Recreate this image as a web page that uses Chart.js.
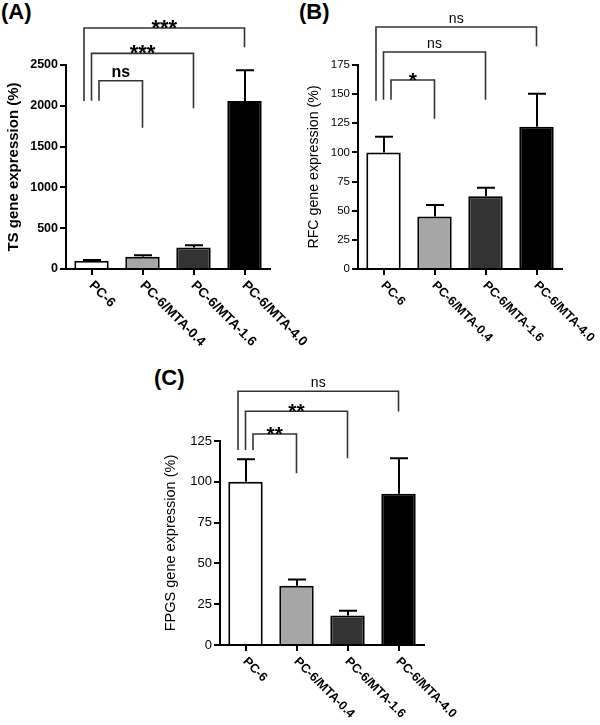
<!DOCTYPE html>
<html><head><meta charset="utf-8">
<script src="https://cdn.jsdelivr.net/npm/chart.js@4.4.1/dist/chart.umd.min.js"></script>
<style>
html,body{margin:0;padding:0;background:#fff;width:600px;height:725px;overflow:hidden;position:relative;}
canvas{position:absolute;}
.lbl{position:absolute;font:bold 22px "Liberation Sans",Arial,Helvetica,sans-serif;color:#000;line-height:22px;white-space:nowrap;}
</style></head><body>
<div class="lbl" style="left:1px;top:1px">(A)</div>
<div class="lbl" style="left:299px;top:1px">(B)</div>
<div class="lbl" style="left:154px;top:367px">(C)</div>
<canvas id="cA" width="330" height="360" style="left:0;top:0"></canvas>
<canvas id="cB" width="300" height="360" style="left:300px;top:0"></canvas>
<canvas id="cC" width="330" height="365" style="left:150px;top:360px"></canvas>
<script>
const categories = ["PC-6","PC-6/MTA-0.4","PC-6/MTA-1.6","PC-6/MTA-4.0"];
const barColors = ["#ffffff","#a6a6a6","#333333","#000000"];

const tsMean = [100,150,265,2059];
const tsSem  = [10,17,25,376];
const tsTicks = [0,500,1000,1500,2000,2500];

const rfcMean = [100,45,62.5,122];
const rfcSem  = [13.5,9.8,7.2,28.3];
const rfcTicks = [0,25,50,75,100,125,150,175];

const fpgsMean = [100,36.3,18,92.7];
const fpgsSem  = [13.8,3.8,3,21.7];
const fpgsTicks = [0,25,50,75,100,125];

// significance brackets: [fromIndex, toIndex, bracketLevel, leftLegEnd, rightLegEnd, label] (data units)
const tsSig   = [[0,1,2307,2062,1731,"ns"],[0,2,2643,2062,1969,"***"],[0,3,2953,2059,2717,"***"]];
const rfcSig  = [[0,1,162.1,145.2,128.9,"*"],[0,2,186.2,145.2,145.2,"ns"],[0,3,207.6,144.4,191,"ns"]];
const fpgsSig = [[0,1,129.3,119.5,105.2,"**"],[0,2,143.2,119.5,114.4,"**"],[0,3,155.5,119.5,143,"ns"]];

const FF = '"Liberation Sans", Arial, Helvetica, sans-serif';

const annot = {
  id:'annot',
  afterDatasetsDraw(chart){
    const P = chart.options.plugins.annot;
    const {ctx} = chart; const x = chart.scales.x, y = chart.scales.y;
    ctx.save();
    ctx.strokeStyle = '#000'; ctx.lineWidth = 2; ctx.lineCap = 'butt';
    P.mean.forEach((m,i)=>{
      const px = Math.round(x.getPixelForValue(i));
      const y0 = y.getPixelForValue(m), y1 = y.getPixelForValue(m + P.sem[i]);
      ctx.beginPath();
      ctx.moveTo(px, y0); ctx.lineTo(px, y1);
      ctx.moveTo(px-9, y1); ctx.lineTo(px+9, y1);
      ctx.stroke();
    });
    ctx.restore();
  },
  afterDraw(chart){
    const P = chart.options.plugins.annot;
    const {ctx} = chart; const x = chart.scales.x, y = chart.scales.y;
    ctx.save();
    const stagger = [7.5, 0, -7.5];
    ctx.strokeStyle = '#333'; ctx.lineWidth = 1.6;
    P.sig.forEach((s,k)=>{
      const xl = x.getPixelForValue(s[0]) + stagger[k];
      const xr = x.getPixelForValue(s[1]);
      const yl = y.getPixelForValue(s[2]);
      ctx.beginPath();
      ctx.moveTo(xl, y.getPixelForValue(s[3]));
      ctx.lineTo(xl, yl); ctx.lineTo(xr, yl);
      ctx.lineTo(xr, y.getPixelForValue(s[4]));
      ctx.stroke();
      ctx.fillStyle = '#000'; ctx.textAlign = 'center'; ctx.textBaseline = 'alphabetic';
      const cx = (xl + xr) / 2;
      if (s[5] === 'ns') { ctx.font = P.nsFont; ctx.fillText(s[5], cx, yl - 4); }
      else { ctx.font = P.starFont; ctx.fillText(s[5], cx, yl + 7); }
    });
    ctx.font = P.xFont; ctx.fillStyle = '#000'; ctx.textAlign = 'left'; ctx.textBaseline = 'alphabetic';
    categories.forEach((lab,i)=>{
      const px = x.getPixelForValue(i);
      ctx.save();
      ctx.translate(px - 3, chart.chartArea.bottom + 17);
      ctx.rotate(Math.PI/4);
      ctx.fillText(lab, 0, 0);
      ctx.restore();
    });
    ctx.restore();
  }
};

function makeChart(id, c){
  return new Chart(document.getElementById(id), {
    type:'bar',
    data:{labels:categories, datasets:[{data:c.mean, backgroundColor:barColors, borderColor:'#000', borderWidth:2, barPercentage:0.675, categoryPercentage:1}]},
    options:{
      responsive:false, animation:false, devicePixelRatio:1,
      layout:{padding:{left:0, top:c.top, right:c.W - c.right, bottom:0}},
      plugins:{legend:{display:false}, tooltip:{enabled:false}, title:{display:false},
        annot:{mean:c.mean, sem:c.sem, sig:c.sig, nsFont:c.nsFont, starFont:c.starFont, xFont:c.xFont}},
      scales:{
        x:{type:'category', offset:true,
           grid:{display:true, drawOnChartArea:false, drawTicks:true, tickLength:6, offset:false, color:'#000', lineWidth:2},
           border:{display:true, color:'#000', width:2},
           ticks:{display:false},
           afterFit(s){ s.height = c.H - c.bottom; }},
        y:{type:'linear', min:0, max:c.ticks[c.ticks.length-1],
           afterBuildTicks(s){ s.ticks = c.ticks.map(v=>({value:v})); },
           grid:{drawOnChartArea:false, drawTicks:true, tickLength:6, color:'#000', lineWidth:2},
           border:{display:true, color:'#000', width:2},
           ticks:{color:'#000', font:c.tickFont, padding:2, callback:(v)=>String(v)},
           title:{display:true, text:c.title, color:'#000', font:c.titleFont, padding:{top:c.titlePad, bottom:0}},
           afterFit(s){ s.width = c.left; }}
      }
    },
    plugins:[annot]
  });
}

makeChart('cA', {mean:tsMean, sem:tsSem, ticks:tsTicks, sig:tsSig, title:'TS gene expression (%)',
  W:330, H:360, left:66, right:270, top:65, bottom:269, titlePad:5,
  tickFont:{family:FF, size:12.5, weight:'bold'}, titleFont:{family:FF, size:15, weight:'bold'},
  nsFont:'bold 16px '+FF, starFont:'bold 22px '+FF, xFont:'bold 13.5px '+FF});
makeChart('cB', {mean:rfcMean, sem:rfcSem, ticks:rfcTicks, sig:rfcSig, title:'RFC gene expression (%)',
  W:300, H:360, left:58, right:262, top:65, bottom:269, titlePad:6,
  tickFont:{family:FF, size:11.5}, titleFont:{family:FF, size:14.2},
  nsFont:'14px '+FF, starFont:'bold 21px '+FF, xFont:'bold 12.5px '+FF});
makeChart('cC', {mean:fpgsMean, sem:fpgsSem, ticks:fpgsTicks, sig:fpgsSig, title:'FPGS gene expression (%)',
  W:330, H:365, left:70, right:274, top:81, bottom:285, titlePad:12,
  tickFont:{family:FF, size:13}, titleFont:{family:FF, size:14.5},
  nsFont:'14px '+FF, starFont:'bold 21px '+FF, xFont:'bold 12.5px '+FF});
</script>
</body></html>
